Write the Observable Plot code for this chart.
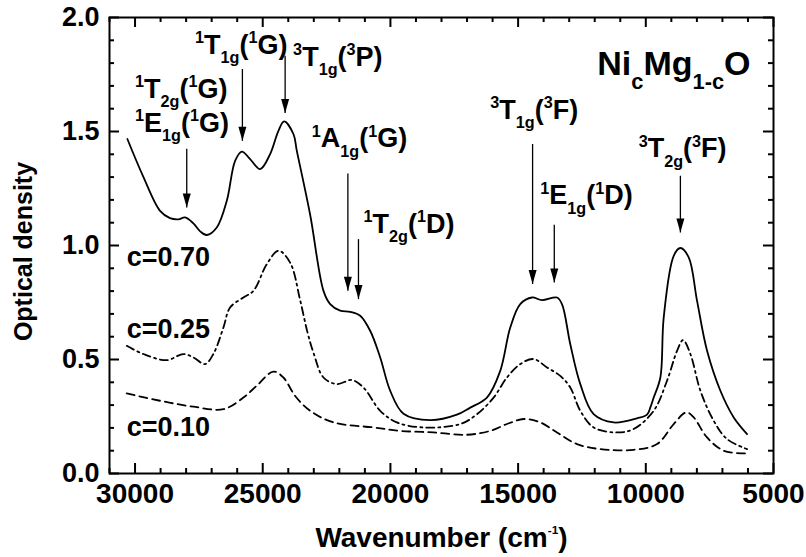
<!DOCTYPE html>
<html><head><meta charset="utf-8">
<script src="https://cdn.jsdelivr.net/npm/d3@7"></script>
<script src="https://cdn.jsdelivr.net/npm/@observablehq/plot@0.6"></script>
<style>body{margin:0;background:#fff} svg{display:block}</style>
</head><body><div id="chart"></div>
<script>
// ---- data ----
const w70  = [30300,29670,29020,28630,28300,28040,27716,27450,27190,26800,26407,26082,25820,25494,25102,24710,24385,24162,23798,23665,23143,22621,22360,21968,21576,21184,20793,20400,20009,19487,18442,17396,16874,16221,15700,15308,14916,14457,14065,13478,13282,12957,12565,12043,11259,10345,9952,9822,9691,9430,9299,8907,8646,8320,7993,7601,7080,6557,6035];
const od70 = [1.467,1.30,1.152,1.12,1.115,1.123,1.097,1.062,1.046,1.079,1.196,1.371,1.412,1.379,1.335,1.401,1.503,1.544,1.489,1.415,1.135,0.801,0.743,0.714,0.709,0.692,0.626,0.509,0.363,0.262,0.234,0.258,0.289,0.333,0.45,0.64,0.743,0.772,0.760,0.772,0.743,0.567,0.392,0.26,0.224,0.242,0.258,0.29,0.333,0.421,0.684,0.955,0.989,0.948,0.757,0.538,0.363,0.246,0.173];

const w25  = [30325,29675,28758,28108,27716,27257,26932,26540,26278,25757,25365,24840,24385,23927,23535,23250,23014,22621,22098,21510,21055,20400,19748,18704,17266,16612,15960,15437,14916,14394,13870,13349,12957,12565,12043,11126,10476,9691,9169,8777,8541,8254,7862,7340,6818,6035];
const od25 = [0.56,0.524,0.497,0.524,0.509,0.48,0.524,0.64,0.728,0.772,0.801,0.918,0.977,0.925,0.76,0.62,0.53,0.421,0.392,0.41,0.377,0.275,0.224,0.202,0.217,0.26,0.333,0.421,0.48,0.502,0.465,0.428,0.377,0.275,0.202,0.18,0.195,0.275,0.407,0.538,0.585,0.524,0.363,0.231,0.151,0.107];

const w10  = [30325,29020,27716,26540,25757,25234,24581,24190,23730,23143,22229,20662,19618,18311,17005,16090,15437,14784,14133,13478,12695,11781,10476,9560,8907,8411,8124,7601,6950,6035];
const od10 = [0.351,0.319,0.293,0.282,0.333,0.385,0.447,0.421,0.34,0.275,0.224,0.202,0.187,0.18,0.17,0.187,0.217,0.239,0.224,0.18,0.129,0.107,0.104,0.129,0.217,0.268,0.246,0.158,0.1,0.088];

const xMajor = [30000,25000,20000,15000,10000,5000];
const xMinor = [31000,29000,28000,27000,26000,24000,23000,22000,21000,19000,18000,17000,16000,14000,13000,12000,11000,9000,8000,7000,6000];
const yMajor = [0, 0.5, 1.0, 1.5, 2.0];
const yMinor = [0.1,0.2,0.3,0.4,0.6,0.7,0.8,0.9,1.1,1.2,1.3,1.4,1.6,1.7,1.8,1.9];

// arrows: wavenumber, shaft top OD, tip OD
const arrowW   = [27975, 25796, 24123, 21666, 21251, 14433, 13584, 8646];
const arrowTop = [1.424, 1.774, 1.832, 1.316, 1.028, 1.445, 1.091, 1.306];
const arrowTip = [1.167, 1.459, 1.581, 0.801, 0.765, 0.831, 0.838, 1.057];

// transition labels (markup: ^{} superscript, _{} subscript)
const labelText = ["^{1}T_{2g}(^{1}G)", "^{1}E_{1g}(^{1}G)", "^{1}T_{1g}(^{1}G)", "^{3}T_{1g}(^{3}P)", "^{1}A_{1g}(^{1}G)", "^{1}T_{2g}(^{1}D)", "^{3}T_{1g}(^{3}F)", "^{1}E_{1g}(^{1}D)", "^{3}T_{2g}(^{3}F)"];
const labelW    = [30000, 30000, 27649, 23810, 23077, 21055, 16091, 14132, 10280];
const labelOD   = [1.646, 1.50, 1.839, 1.788, 1.43, 1.057, 1.554, 1.18, 1.386];

const seriesText = ["c=0.70", "c=0.25", "c=0.10"];
const seriesW    = [30325, 30325, 30325];
const seriesOD   = [0.911, 0.594, 0.165];

const titleText = "Ni_{c}Mg_{1-c}O";
const xTitle = "Wavenumber (cm^{-1})";
const yTitle = "Optical density";

// ---- layout ----
const W = 806, H = 557, ML = 109, MR = 33, MT = 17, MB = 84;
const FW = W - ML - MR, FH = H - MT - MB;

// ---- tables ----
const rows = (w, od) => w.map((v, i) => ({w: v, od: od[i]}));
const arrows = arrowW.map((w, i) => ({w, top: arrowTop[i], tip: arrowTip[i]}));
const labels = labelText.map((t, i) => ({t, w: labelW[i], od: labelOD[i]}));
const slabels = seriesText.map((t, i) => ({t, w: seriesW[i], od: seriesOD[i]}));

const headDown = {draw(ctx) { ctx.moveTo(0, 0); ctx.lineTo(-4, -14); ctx.lineTo(4, -14); ctx.closePath(); }};
const id = d => d;
const tk = {stroke: "black", strokeWidth: 2};

const plot = Plot.plot({
  width: W, height: H,
  marginLeft: ML, marginRight: MR, marginTop: MT, marginBottom: MB,
  x: {domain: [31000, 5000], label: null},
  y: {domain: [0, 2], label: null},
  style: {fontFamily: "'Liberation Sans', Arial, sans-serif", fontWeight: "bold", color: "black", background: "white", overflow: "visible"},
  marks: [
    // tick labels
    Plot.axisX({anchor: "bottom", ticks: xMajor, tickSize: 0, tickPadding: 10, fontSize: 28, label: null, tickFormat: d => String(d)}),
    Plot.axisY({anchor: "left", ticks: yMajor, tickSize: 0, tickPadding: 10, fontSize: 27, label: null, tickFormat: d3.format(".1f")}),
    Plot.frame({stroke: "black", strokeWidth: 2}),
    // inward ticks on all four sides
    Plot.ruleX(xMajor, {x: id, insetTop: FH - 10, ...tk}),
    Plot.ruleX(xMinor, {x: id, insetTop: FH - 5, ...tk}),
    Plot.ruleX(xMajor, {x: id, insetBottom: FH - 10, ...tk}),
    Plot.ruleX(xMinor, {x: id, insetBottom: FH - 5, ...tk}),
    Plot.ruleY(yMajor, {y: id, insetRight: FW - 10, ...tk}),
    Plot.ruleY(yMinor, {y: id, insetRight: FW - 5, ...tk}),
    Plot.ruleY(yMajor, {y: id, insetLeft: FW - 10, ...tk}),
    Plot.ruleY(yMinor, {y: id, insetLeft: FW - 5, ...tk}),
    // spectra
    Plot.line(rows(w70, od70), {x: "w", y: "od", stroke: "black", strokeWidth: 1.8, curve: "catmull-rom"}),
    Plot.line(rows(w25, od25), {x: "w", y: "od", stroke: "black", strokeWidth: 1.8, strokeDasharray: "8,4,2,4", curve: "catmull-rom"}),
    Plot.line(rows(w10, od10), {x: "w", y: "od", stroke: "black", strokeWidth: 1.8, strokeDasharray: "8,5", curve: "catmull-rom"}),
    // arrows
    Plot.link(arrows, {x1: "w", x2: "w", y1: "top", y2: "tip", stroke: "black", strokeWidth: 1.3}),
    Plot.dot(arrows, {x: "w", y: "tip", symbol: headDown, fill: "black", stroke: null}),
    // texts
    Plot.text(labels, {x: "w", y: "od", text: "t", textAnchor: "start", lineAnchor: "bottom", fontSize: 27}),
    Plot.text(slabels, {x: "w", y: "od", text: "t", textAnchor: "start", lineAnchor: "bottom", fontSize: 27}),
    Plot.text([titleText], {text: id, frameAnchor: "top-right", textAnchor: "end", lineAnchor: "bottom", dx: -23, dy: 57, fontSize: 34}),
    Plot.text([xTitle], {text: id, frameAnchor: "bottom", textAnchor: "middle", lineAnchor: "bottom", dy: 73, fontSize: 28}),
    Plot.text([yTitle], {text: id, frameAnchor: "left", textAnchor: "middle", lineAnchor: "middle", rotate: -90, dx: -86, dy: 6, fontSize: 25})
  ]
});
document.getElementById("chart").appendChild(plot);

// ---- rich text: turn ^{..} / _{..} into tspans ----
const richCfg = {
  [titleText]: {size: 0.64, up: 0.4, down: 0.42},
  [xTitle]: {size: 0.42, up: 0.45, down: 0.3}
};
const NS = "http://www.w3.org/2000/svg";
plot.querySelectorAll("text").forEach(t => {
  const s = t.textContent;
  if (!/[\^_]\{/.test(s)) return;
  const fs = parseFloat(getComputedStyle(t).fontSize);
  const cfg = richCfg[s] || {size: 0.6, up: 0.4, down: 0.34};
  let base = 0;
  const tdy = t.getAttribute("dy");
  if (tdy) { base = tdy.endsWith("em") ? parseFloat(tdy) * fs : parseFloat(tdy); t.removeAttribute("dy"); }
  while (t.firstChild) t.removeChild(t.firstChild);
  let shift = 0, first = true;
  for (const p of s.match(/\^\{[^}]*\}|_\{[^}]*\}|[^\^_]+/g)) {
    const ts = document.createElementNS(NS, "tspan");
    let target = 0, txt = p, small = false;
    if (p.startsWith("^{")) { target = -cfg.up * fs; txt = p.slice(2, -1); small = true; }
    else if (p.startsWith("_{")) { target = cfg.down * fs; txt = p.slice(2, -1); small = true; }
    const dy = target - shift + (first ? base : 0);
    ts.setAttribute("dy", dy.toFixed(2));
    shift = target; first = false;
    if (small) ts.setAttribute("font-size", (cfg.size * fs).toFixed(1));
    ts.textContent = txt;
    t.appendChild(ts);
  }
});
</script>
</body></html>
